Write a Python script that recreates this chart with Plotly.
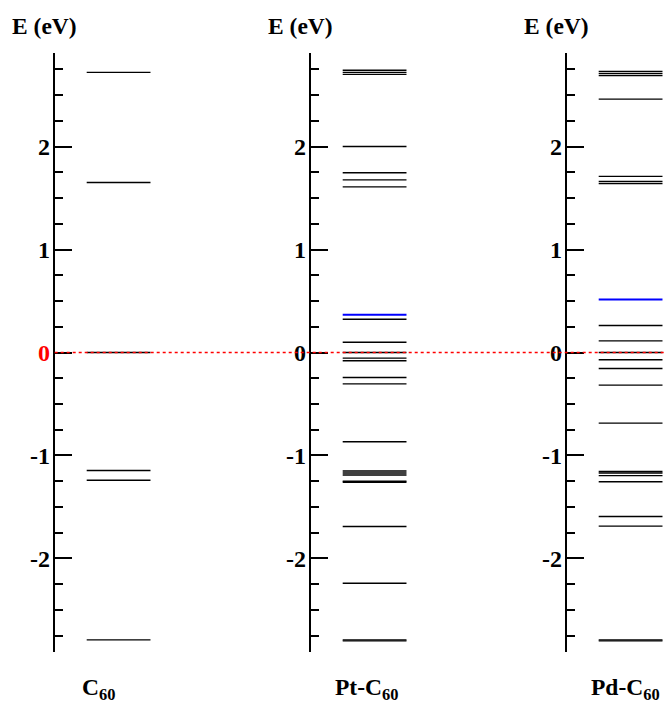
import plotly.graph_objects as go

# ---------------- data (eV) ----------------
panels = ["C60", "Pt-C60", "Pd-C60"]
panel_labels = ["C<sub>60</sub>", "Pt-C<sub>60</sub>", "Pd-C<sub>60</sub>"]

c60_levels = [2.72, 1.65, 0.0, -1.146, -1.24, -2.79]
pt_levels = [2.74, 2.72, 2.70, 2.0, 1.745, 1.676, 1.608, 0.323, 0.10, 0.0,
             -0.055, -0.08, -0.243, -0.305, -0.867, -1.15, -1.17, -1.19,
             -1.25, -1.26, -1.69, -2.24, -2.79, -2.80]
pd_levels = [2.73, 2.71, 2.69, 2.46, 1.71, 1.66, 1.64, 0.262, 0.113, 0.0,
             -0.071, -0.155, -0.317, -0.686, -1.155, -1.17, -1.195, -1.255,
             -1.592, -1.686, -2.79, -2.80]
blue_levels = [None, 0.366, 0.515]   # highlighted level per panel

tick_vals = [-2, -1, 0, 1, 2]
tick_text = ["-2", "-1", "0", "1", "2"]

all_levels = [c60_levels, pt_levels, pd_levels]

# ---------------- layout constants ----------------
W, H = 664, 705
TOP, BOT = 53, 53
FONT = "Liberation Serif"
axis_px = [54.7, 310.7, 566.7]
panel_w = 96.0
lvl_x0 = 32.0 / panel_w
yr = [-2.908, 2.908]

fig = go.Figure()

for i, levels in enumerate(all_levels):
    xs, ys = [], []
    for e in levels:
        xs += [lvl_x0, 1.0, None]
        ys += [e, e, None]
    sfx = "" if i == 0 else str(i + 1)
    fig.add_trace(go.Scatter(x=xs, y=ys, mode="lines",
                             line=dict(color="black", width=1.4),
                             xaxis="x" + sfx, yaxis="y" + sfx,
                             hoverinfo="skip", showlegend=False))
    if blue_levels[i] is not None:
        fig.add_trace(go.Scatter(x=[lvl_x0, 1.0], y=[blue_levels[i]] * 2,
                                 mode="lines",
                                 line=dict(color="#0000ff", width=2),
                                 xaxis="x" + sfx, yaxis="y" + sfx,
                                 hoverinfo="skip", showlegend=False))

    ttext = list(tick_text)
    if i == 0:
        ttext[2] = '<span style="color:#ff0000">0</span>'
    x0 = axis_px[i] / W
    x1 = min((axis_px[i] + panel_w) / W, 1.0)
    fig.layout["xaxis" + sfx] = dict(domain=[x0, x1], range=[0, 1],
                                     visible=False, fixedrange=True,
                                     anchor="y" + sfx)
    fig.layout["yaxis" + sfx] = dict(
        range=yr, anchor="x" + sfx, showline=True, linecolor="black",
        linewidth=2, showgrid=False, zeroline=False, fixedrange=True,
        tickvals=tick_vals, ticktext=ttext, ticks="inside", ticklen=17,
        tickwidth=2, tickcolor="black", ticklabelstandoff=-2,
        tickfont=dict(family=FONT, size=24, color="black", weight="bold"),
        minor=dict(dtick=0.25, tick0=0, ticks="inside", ticklen=8,
                   tickwidth=2, tickcolor="black"),
    )

    # axis title "E (eV)"
    fig.add_annotation(text="E (eV)", xref="paper", yref="paper",
                       x=(axis_px[i] - 10) / W, y=(H - BOT - 26) / (H - TOP - BOT),
                       xanchor="center", yanchor="middle", showarrow=False,
                       font=dict(family=FONT, size=23.5, color="black", weight="bold"))

# bottom labels
label_left = [80, 333, 589]
for i, lab in enumerate(panel_labels):
    fig.add_annotation(text=lab, xref="paper", yref="paper",
                       x=label_left[i] / W, y=(H - BOT - 689) / (H - TOP - BOT),
                       xanchor="left", yanchor="middle", showarrow=False,
                       font=dict(family=FONT, size=23.5, color="black", weight="bold"))

# Fermi level (dotted red)
fig.add_shape(type="line", xref="paper", yref="y", x0=axis_px[0] / W, x1=1.0,
              y0=0, y1=0, line=dict(color="#ff0000", width=1.5, dash="dot"),
              layer="above")

fig.update_layout(width=W, height=H, margin=dict(l=0, r=0, t=TOP, b=BOT),
                  plot_bgcolor="white", paper_bgcolor="white",
                  font=dict(family=FONT, color="black"))

fig.write_html("out.html", config={"displayModeBar": False},
               post_script="document.body.style.margin='0px';"
                           "document.body.style.overflow='hidden';")
